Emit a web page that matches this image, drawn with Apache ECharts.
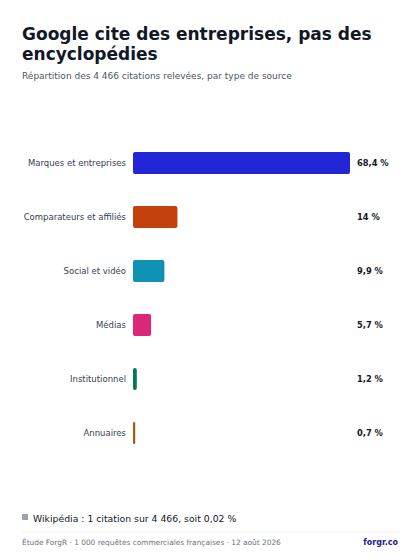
<!DOCTYPE html>
<html><head><meta charset="utf-8">
<script src="https://cdn.jsdelivr.net/npm/echarts@6/dist/echarts.min.js"></script>
<style>html,body{margin:0;padding:0;background:#fff}#c{width:420px;height:560px}</style>
</head><body><div id="c"></div>
<script>
const categories = ["Marques et entreprises","Comparateurs et affiliés","Social et vidéo","Médias","Institutionnel","Annuaires"];
const values = [68.4, 14, 9.9, 5.7, 1.2, 0.7];
const valueLabels = ["68,4 %","14 %","9,9 %","5,7 %","1,2 %","0,7 %"];
const colors = ["#2326d6","#c2410c","#0e93b4","#db2777","#047857","#a16207"];
const F = "DejaVu Sans";
const chart = echarts.init(document.getElementById('c'), null, {renderer:'svg'});
chart.setOption({
  animation:false,
  textStyle:{fontFamily:F},
  title:[
    {text:"Google cite des entreprises, pas des\nencyclopédies", left:17, top:19,
     textStyle:{fontSize:17, fontWeight:'bold', color:'#111827', lineHeight:20, fontFamily:F}},
    {text:"Répartition des 4 466 citations relevées, par type de source", left:17, top:66,
     textStyle:{fontSize:9, fontWeight:'normal', color:'#4b5563', fontFamily:F}}
  ],
  grid:{left:133, right:70, top:136, bottom:100},
  xAxis:{type:'value', min:0, max:68.4, show:false},
  yAxis:[
    {type:'category', data:categories, inverse:true, axisLine:{show:false}, axisTick:{show:false},
     axisLabel:{fontSize:8.5, color:'#374151', margin:7, fontFamily:F}},
    {type:'category', data:valueLabels, inverse:true, position:'right', axisLine:{show:false}, axisTick:{show:false},
     axisLabel:{fontSize:8.3, color:'#111827', fontWeight:'bold', margin:7, align:'left', fontFamily:F}}
  ],
  series:[{type:'bar', data:values.map((v,i)=>({value:v, itemStyle:{color:colors[i]}})),
    barWidth:22, itemStyle:{borderRadius:2}}],
  graphic:[
    {type:'rect', shape:{x:22, y:514, width:6, height:6}, style:{fill:'#9ca3af'}},
    {type:'text', x:33, y:518, style:{text:"Wikipédia : 1 citation sur 4 466, soit 0,02 %", fontSize:9.3, fill:'#111827', fontFamily:F, verticalAlign:'middle'}},
    {type:'line', shape:{x1:22, y1:532, x2:400, y2:532}, style:{stroke:'#f0f0f2', lineWidth:1}},
    {type:'text', x:22, y:542, style:{text:"Étude ForgR · 1 000 requêtes commerciales françaises · 12 août 2026", fontSize:7.4, fill:'#6b7280', fontFamily:F, verticalAlign:'middle'}},
    {type:'text', x:398, y:542, style:{text:"forgr.co", fontSize:8, fontWeight:'bold', fill:'#1e1b8a', fontFamily:F, verticalAlign:'middle', align:'right'}}
  ]
});
</script></body></html>
